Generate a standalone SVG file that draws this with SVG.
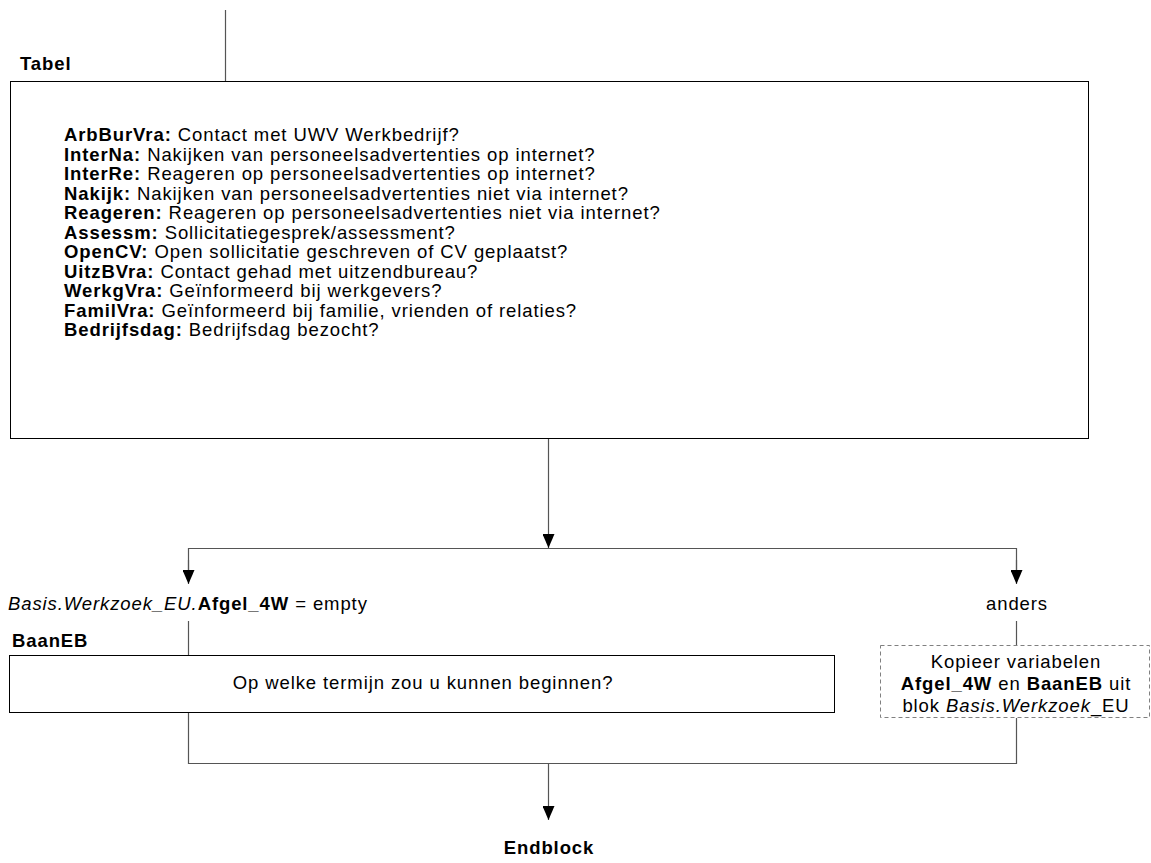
<svg xmlns="http://www.w3.org/2000/svg" width="1151" height="863" viewBox="0 0 1151 863">
<defs>
<marker id="arr" viewBox="0 0 14 12" refX="14" refY="6" markerWidth="14" markerHeight="12" markerUnits="userSpaceOnUse" orient="auto">
<path d="M0,0 L14,6 L0,12 Z" fill="#000"/>
</marker>
<style>
text{font-family:"Liberation Sans",Arial,sans-serif;font-size:18.5px;letter-spacing:0.9px;fill:#000}
.b{font-weight:bold}
.i{font-style:italic}
.box{fill:#fff;stroke:#000;stroke-width:1}
.dash{fill:#fff;stroke:#808080;stroke-width:1;stroke-dasharray:4,3}
.ln{fill:none;stroke:#555;stroke-width:1.2}
</style>
</defs>
<rect width="1151" height="863" fill="#fff"/>
<g id="connectors">
<path class="ln" d="M225.5,10 V81"/>
<path class="ln" d="M548.5,439 V548" marker-end="url(#arr)"/>
<path class="ln" d="M188.5,570 V548.5 H1016.5 V570"/>
<path class="ln" d="M188.5,560 V584" marker-end="url(#arr)"/>
<path class="ln" d="M1016.5,560 V584" marker-end="url(#arr)"/>
<path class="ln" d="M188.5,621 V655"/>
<path class="ln" d="M1016.5,621 V645"/>
<path class="ln" d="M188.5,712 V763.5 H1016.5 V718"/>
<path class="ln" d="M548.5,763 V820" marker-end="url(#arr)"/>
</g>
<g id="tabel">
<text x="20" y="70" class="b">Tabel</text>
<rect class="box" x="10.5" y="81.5" width="1078" height="357"/>
<text x="64" y="141"><tspan class="b">ArbBurVra:</tspan> Contact met UWV Werkbedrijf?</text>
<text x="64" y="160.5"><tspan class="b">InterNa:</tspan> Nakijken van personeelsadvertenties op internet?</text>
<text x="64" y="180"><tspan class="b">InterRe:</tspan> Reageren op personeelsadvertenties op internet?</text>
<text x="64" y="199.5"><tspan class="b">Nakijk:</tspan> Nakijken van personeelsadvertenties niet via internet?</text>
<text x="64" y="219"><tspan class="b">Reageren:</tspan> Reageren op personeelsadvertenties niet via internet?</text>
<text x="64" y="238.5"><tspan class="b">Assessm:</tspan> Sollicitatiegesprek/assessment?</text>
<text x="64" y="258"><tspan class="b">OpenCV:</tspan> Open sollicitatie geschreven of CV geplaatst?</text>
<text x="64" y="277.5"><tspan class="b">UitzBVra:</tspan> Contact gehad met uitzendbureau?</text>
<text x="64" y="297"><tspan class="b">WerkgVra:</tspan> Geïnformeerd bij werkgevers?</text>
<text x="64" y="316.5"><tspan class="b">FamilVra:</tspan> Geïnformeerd bij familie, vrienden of relaties?</text>
<text x="64" y="336"><tspan class="b">Bedrijfsdag:</tspan> Bedrijfsdag bezocht?</text>
</g>
<g id="cond-left">
<text x="8" y="610"><tspan class="i">Basis.Werkzoek_EU.</tspan><tspan class="b">Afgel_4W</tspan> = empty</text>
</g>
<g id="cond-right">
<text x="1017" y="610" text-anchor="middle">anders</text>
</g>
<g id="baaneb">
<text x="12" y="647" class="b">BaanEB</text>
<rect class="box" x="9.5" y="655.5" width="825" height="57"/>
<text x="423" y="689" text-anchor="middle">Op welke termijn zou u kunnen beginnen?</text>
</g>
<g id="kopieer">
<rect class="dash" x="880.5" y="645.5" width="269" height="72"/>
<text x="1016" y="668" text-anchor="middle">Kopieer variabelen</text>
<text x="1016" y="690" text-anchor="middle"><tspan class="b">Afgel_4W</tspan> en <tspan class="b">BaanEB</tspan> uit</text>
<text x="1016" y="712" text-anchor="middle">blok <tspan class="i">Basis.Werkzoek</tspan>_EU</text>
</g>
<g id="endblock">
<text x="549" y="854" text-anchor="middle" class="b">Endblock</text>
</g>
</svg>
